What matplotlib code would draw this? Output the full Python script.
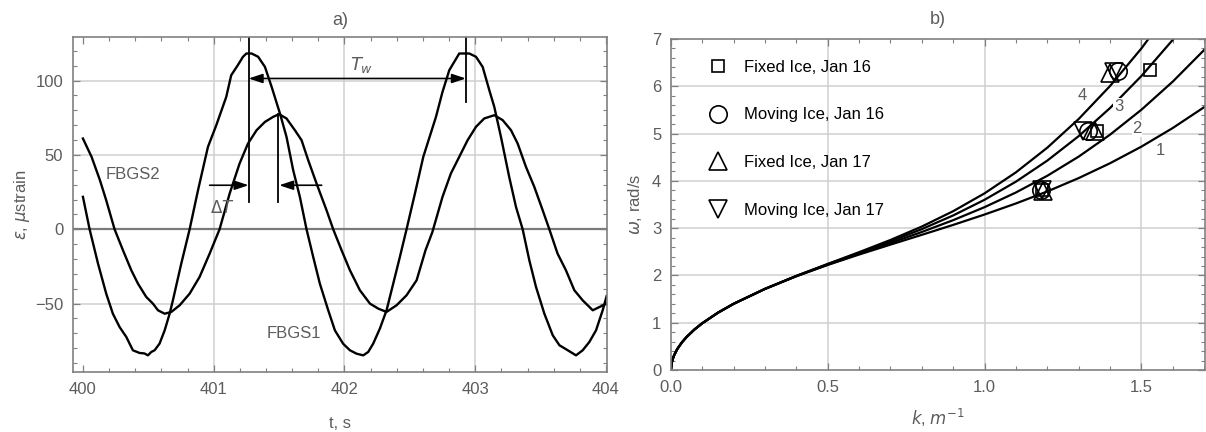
import matplotlib
matplotlib.use("Agg")
import numpy as np
from matplotlib import pyplot as plt
from matplotlib.ticker import MultipleLocator

plt.rcParams["font.family"] = ["Liberation Sans", "DejaVu Sans"]
plt.rcParams["mathtext.fontset"] = "dejavusans"

# ---- panel a): strain records (read off the picture) ----
t1 = [400.000, 400.051, 400.115, 400.178, 400.229, 400.280, 400.332, 400.382, 400.433, 400.470,
      400.497, 400.523, 400.548, 400.586, 400.625, 400.663, 400.688, 400.752, 400.816, 400.880,
      400.956, 401.020, 401.096, 401.134, 401.185, 401.224, 401.250, 401.290, 401.340, 401.392,
      401.443, 401.507, 401.557, 401.608, 401.659, 401.710, 401.761, 401.812, 401.876, 401.927,
      401.990, 402.042, 402.093, 402.144, 402.182, 402.220, 402.271, 402.322, 402.373, 402.424,
      402.475, 402.539, 402.603, 402.700, 402.750, 402.802, 402.840, 402.878, 402.955, 403.006,
      403.057, 403.108, 403.146, 403.197, 403.260, 403.312, 403.363, 403.414, 403.465, 403.529,
      403.593, 403.644, 403.708, 403.771, 403.822, 403.873, 403.924, 403.975, 404.005]
e1 = [21.8, 0, -23, -43.3, -56.8, -65.7, -72.5, -81.4, -83.2, -83.5,
      -84.8, -82.5, -81.4, -76.9, -68, -56.8, -47.8, -23.1, 0, 26.2,
      55.4, 70, 89, 103.6, 110.4, 116, 118.2, 118.2, 116, 109.2,
      95.8, 77.8, 62.1, 39.7, 21.8, 0, -18.6, -36.6, -54.5, -68,
      -77, -81.4, -83.7, -84.8, -82.5, -76.9, -66.8, -54.5, -36.6, -18.6,
      0, 24, 48.7, 75.6, 92.4, 107, 112.6, 118.2, 118.2, 116,
      109.2, 93.5, 82.3, 62.1, 35.2, 15, 0, -20.9, -38.8, -56.8,
      -71.3, -78, -81.4, -84.8, -81.4, -75.8, -68, -54.5, -45]

t2 = [400.000, 400.066, 400.130, 400.178, 400.242, 400.306, 400.370, 400.421, 400.484, 400.535,
      400.574, 400.625, 400.676, 400.740, 400.816, 400.892, 400.969, 401.045, 401.122, 401.198,
      401.262, 401.328, 401.392, 401.455, 401.500, 401.557, 401.621, 401.672, 401.723, 401.787,
      401.863, 401.914, 401.978, 402.042, 402.118, 402.195, 402.259, 402.322, 402.399, 402.475,
      402.552, 402.620, 402.672, 402.750, 402.814, 402.878, 402.942, 403.006, 403.069, 403.146,
      403.210, 403.274, 403.325, 403.388, 403.452, 403.516, 403.567, 403.630, 403.694, 403.758,
      403.822, 403.899, 403.950, 404.005]
e2 = [61, 48.7, 33, 19.5, 0, -14.1, -27.6, -36.6, -45.5, -50,
      -54.5, -56.8, -55.6, -51.1, -43.3, -32.1, -16.4, 0, 24, 44.2,
      57.6, 66.6, 72.2, 75.6, 77.4, 74.5, 66.6, 59.9, 46.4, 30.7,
      12.8, 0, -14.1, -27.6, -41, -50, -53.4, -55.6, -51.1, -44.4,
      -34.3, -14.1, -2, 21.8, 37.5, 48.7, 59.9, 68.9, 74.5, 76.7,
      73.4, 66.6, 57.6, 42, 28.5, 12.8, 0, -16.4, -27.6, -41,
      -47.8, -54.5, -52.3, -50]

# ---- panel b): dispersion curves and measured points ----
k = [0, 0.002, 0.005, 0.01, 0.02, 0.035, 0.05, 0.075, 0.1, 0.15, 0.2, 0.3, 0.4, 0.5,
     0.6, 0.7, 0.8, 0.9, 1.0, 1.1, 1.2, 1.3, 1.4, 1.5, 1.6, 1.7]
w_curve1 = [0, 0.140, 0.221, 0.313, 0.443, 0.586, 0.700, 0.858, 0.990, 1.213, 1.401, 1.716, 1.983, 2.222,
            2.442, 2.652, 2.859, 3.069, 3.288, 3.522, 3.776, 4.058, 4.372, 4.723, 5.117, 5.557]
w_curve2 = [0, 0.140, 0.221, 0.313, 0.443, 0.586, 0.700, 0.858, 0.990, 1.213, 1.401, 1.716, 1.986, 2.229,
            2.459, 2.686, 2.919, 3.169, 3.444, 3.754, 4.107, 4.512, 4.976, 5.503, 6.098, 6.766]
w_curve3 = [0, 0.140, 0.221, 0.313, 0.443, 0.586, 0.700, 0.858, 0.990, 1.213, 1.401, 1.716, 1.989, 2.237,
            2.476, 2.720, 2.980, 3.269, 3.600, 3.983, 4.428, 4.945, 5.539, 6.216, 6.981, 7.836]
w_curve4 = [0, 0.140, 0.221, 0.313, 0.443, 0.586, 0.700, 0.858, 0.990, 1.213, 1.401, 1.716, 1.992, 2.244,
            2.492, 2.750, 3.034, 3.359, 3.736, 4.180, 4.701, 5.307, 6.005, 6.799, 7.695, 8.695]
curve_labels = ["1", "2", "3", "4"]
curve_label_k = [1.560, 1.486, 1.427, 1.310]
curve_label_w = [4.65, 5.11, 5.57, 5.81]

fixed16_k = [1.527, 1.360, 1.183]
fixed16_w = [6.35, 5.06, 3.80]
moving16_k = [1.427, 1.331, 1.180]
moving16_w = [6.33, 5.06, 3.81]
fixed17_k = [1.401, 1.353, 1.185]
fixed17_w = [6.28, 5.06, 3.78]
moving17_k = [1.414, 1.315, 1.182]
moving17_w = [6.31, 5.06, 3.80]

GRAY = "#5c5c5c"
FRAME = "#808080"
GRID = "#cfcfcf"

fig = plt.figure(figsize=(12.06, 4.32), dpi=100)
ax1 = fig.add_axes([73 / 1206, 1 - 372 / 432, 534 / 1206, 335 / 432])
ax2 = fig.add_axes([671 / 1206, 1 - 370 / 432, 534 / 1206, 331 / 432])


def frame(ax):
    for s in ax.spines.values():
        s.set_color(FRAME)
        s.set_linewidth(1.2)
    ax.tick_params(which="both", direction="in", top=True, right=True,
                   color=FRAME, labelcolor=GRAY, labelsize=12)
    ax.tick_params(which="major", length=5, width=0.9, pad=7)
    ax.tick_params(which="minor", length=2.7, width=0.8)


# ---- a) ----
frame(ax1)
ax1.set_xlim(399.924, 404.008)
ax1.set_ylim(-96, 129.3)
ax1.xaxis.set_major_locator(MultipleLocator(1))
ax1.xaxis.set_minor_locator(MultipleLocator(0.2))
ax1.yaxis.set_major_locator(MultipleLocator(50))
ax1.yaxis.set_minor_locator(MultipleLocator(10))
ax1.set_yticks([-50, 0, 50, 100])
ax1.set_yticklabels(["\u221250", "0", "50", "100"])
for x in [401, 402, 403]:
    ax1.axvline(x, color=GRID, lw=1.1, zorder=0)
for y in [-50, 50, 100]:
    ax1.axhline(y, color=GRID, lw=1.1, zorder=0)
ax1.axhline(0, color="#7a7a7a", lw=1.6, zorder=0)

ax1.plot(t1, e1, color="black", lw=1.7)
ax1.plot(t2, e2, color="black", lw=1.7)

ax1.plot([401.267, 401.267], [129.3, 18.4], color="black", lw=1.3)
ax1.plot([401.494, 401.494], [77.4, 18.0], color="black", lw=1.3)
ax1.plot([402.929, 402.929], [129.3, 85.7], color="black", lw=1.3)
arrow = dict(arrowstyle="-|>,head_length=0.6,head_width=0.2", color="black",
             lw=1.2, shrinkA=0, shrinkB=0, mutation_scale=14)
ax1.annotate("", xy=(401.267, 29.6), xytext=(400.969, 29.6), arrowprops=arrow)
ax1.annotate("", xy=(401.501, 29.6), xytext=(401.826, 29.6), arrowprops=arrow)
arrow2 = dict(arrow, arrowstyle="<|-|>,head_length=0.6,head_width=0.2")
ax1.annotate("", xy=(402.929, 101.4), xytext=(401.267, 101.4), arrowprops=arrow2)
ax1.text(401.063, 14.6, r"$\mathit{\Delta T}$", color=GRAY, fontsize=12, ha="center", va="center")
ax1.text(402.131, 110.4, r"$T_w$", color=GRAY, fontsize=13, ha="center", va="center")
ax1.text(400.379, 37, "FBGS2", color=GRAY, fontsize=12, ha="center", va="center")
ax1.text(401.614, -69.8, "FBGS1", color=GRAY, fontsize=12, ha="center", va="center")

ax1.set_xlabel("t, s", color=GRAY, fontsize=12, labelpad=14)
ax1.set_ylabel(r"$\epsilon$, $\mu$strain", color=GRAY, fontsize=12, labelpad=2)
ax1.set_title("a)", color=GRAY, fontsize=13, pad=9)

# ---- b) ----
frame(ax2)
ax2.set_xlim(0, 1.703)
ax2.set_ylim(0, 7)
ax2.xaxis.set_major_locator(MultipleLocator(0.5))
ax2.xaxis.set_minor_locator(MultipleLocator(0.1))
ax2.yaxis.set_major_locator(MultipleLocator(1))
ax2.yaxis.set_minor_locator(MultipleLocator(0.2))
ax2.xaxis.set_major_formatter(lambda v, p: f"{v:.1f}")
for x in [0.5, 1.0, 1.5]:
    ax2.axvline(x, color=GRID, lw=1.1, zorder=0)
for y in [1, 2, 3, 4, 5, 6]:
    ax2.axhline(y, color=GRID, lw=1.1, zorder=0)

for w in [w_curve1, w_curve2, w_curve3, w_curve4]:
    ax2.plot(k, w, color="black", lw=1.6)
for lab, kx, wy in zip(curve_labels, curve_label_k, curve_label_w):
    ax2.text(kx, wy, lab, color=GRAY, fontsize=12, ha="center", va="center",
             bbox=dict(facecolor="white", edgecolor="none", pad=0.5), zorder=4)

mk = dict(ls="none", mfc="none", mec="black", mew=1.2, zorder=5)
h1, = ax2.plot(fixed16_k, fixed16_w, marker="s", ms=9, label="Fixed Ice, Jan 16", **mk)
h2, = ax2.plot(moving16_k, moving16_w, marker="o", ms=12.5, label="Moving Ice, Jan 16", **mk)
h3, = ax2.plot(fixed17_k, fixed17_w, marker="^", ms=12.5, label="Fixed Ice, Jan 17", **mk)
h4, = ax2.plot(moving17_k, moving17_w, marker="v", ms=12.5, label="Moving Ice, Jan 17", **mk)
ax2.legend(handles=[h1, h2, h3, h4], loc="upper left", bbox_to_anchor=(0.072, 0.938),
           frameon=False, fontsize=12, handlelength=1.0, handletextpad=1.05,
           labelspacing=1.97, borderpad=0, borderaxespad=0, numpoints=1)

ax2.set_xlabel(r"$k$, $m^{-1}$", color=GRAY, fontsize=12, labelpad=9)
ax2.set_ylabel(r"$\omega$, rad/s", color=GRAY, fontsize=12, labelpad=6)
ax2.set_title("b)", color=GRAY, fontsize=13, pad=11)

fig.savefig("out.png", dpi=100)
